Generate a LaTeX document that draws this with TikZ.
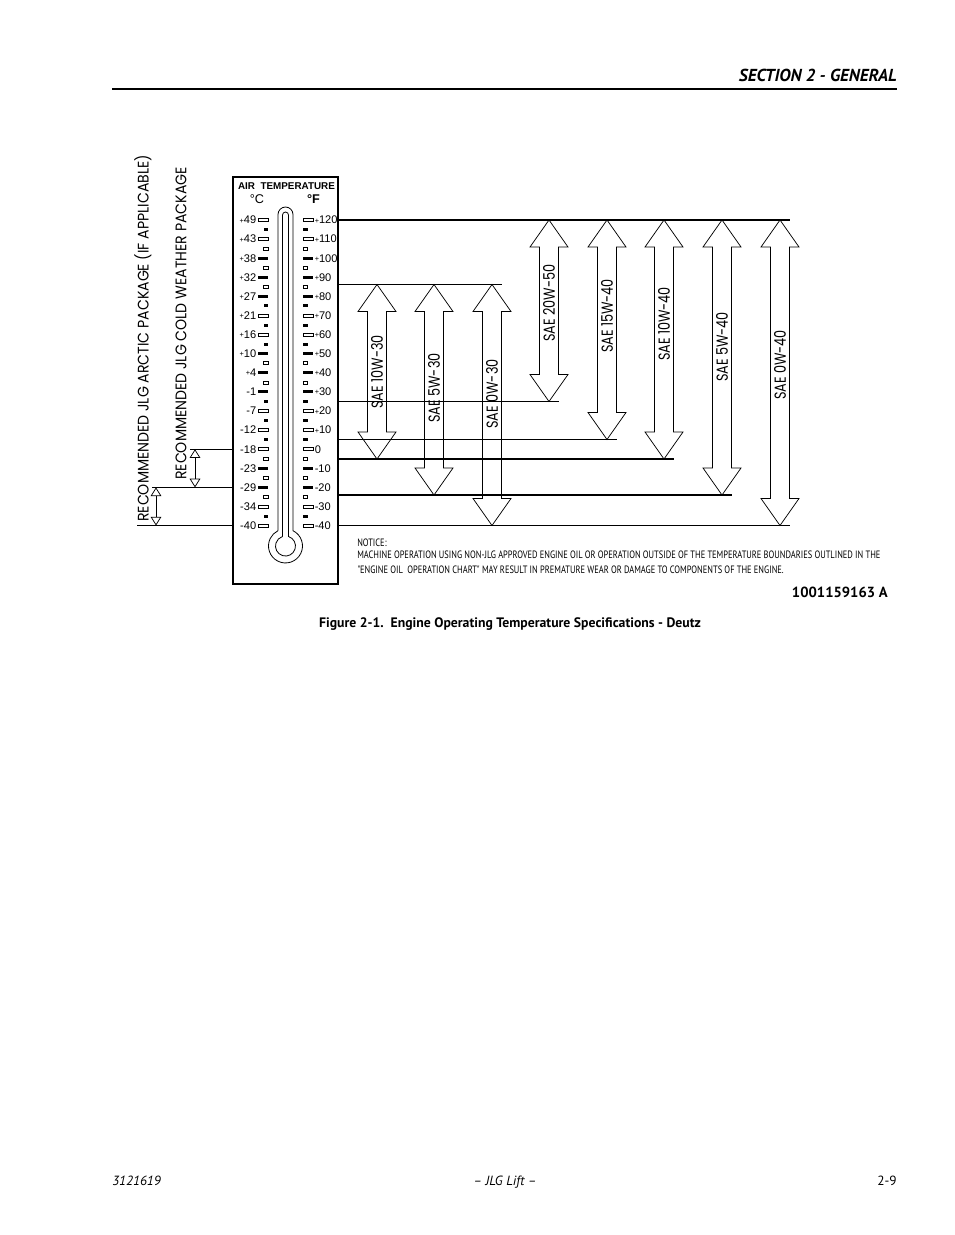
\documentclass[tikz,border=0pt]{standalone}
\usepackage{fontspec}
\setmainfont{PT Sans}
\newfontfamily\gothic[FakeStretch=0.8]{Poppins}
\newfontfamily\gothicwide[FakeStretch=0.92]{Poppins}
\newfontfamily\arial{Liberation Sans}
\newfontfamily\narrow[FakeStretch=0.79]{PT Sans}
\usepackage{tikz}
\usetikzlibrary{positioning,arrows.meta,calc}
\newcommand\tplus{\raisebox{0.6pt}{\fontsize{5.5}{5}\selectfont+}}
\tikzset{
  chartline/.style={line width=0.9pt},
  oilarrow/.style={line width=0.55pt, line join=miter},
  oillabel/.style={font=\gothic\fontsize{12}{12}\selectfont, rotate=90, inner sep=0pt},
  pkglabel/.style={font=\gothicwide\fontsize{11.5}{12}\selectfont, rotate=90, inner sep=0pt, anchor=west},
  pkgarrow/.style={{Triangle[open,length=6.5pt,width=8pt]}-{Triangle[open,length=6.5pt,width=8pt]}, line width=0.55pt},
  degc/.style={font=\arial\fontsize{8.3}{9}\selectfont, anchor=east, inner sep=0pt},
  degf/.style={font=\arial\fontsize{8.3}{9}\selectfont, anchor=west, inner sep=0pt},
  tick o/.style={draw, line width=0.45pt},
  tick f/.style={fill=black},
  pagetext/.style={inner sep=0pt}
}
\begin{document}
\begin{tikzpicture}[x=0.75pt, y=-0.75pt]
  \useasboundingbox[fill=white] (0,0) rectangle (954,1235);

  \node[pagetext, anchor=base east, font=\bfseries\itshape\fontsize{13}{15}\selectfont] (section) at (897,81) {SECTION 2 - GENERAL};
  \draw[line width=0.9pt] (112,89) -- (897,89);

  \node[draw, line width=1pt, minimum width=78.75pt, minimum height=305.25pt, inner sep=0pt, outer sep=0pt] (panel) at (285.5,380.5) {};
  \node[pagetext, font=\arial\bfseries\fontsize{7.4}{8}\selectfont] (airtemp) at (286.5,186) {AIR\ \ TEMPERATURE};
  \node[pagetext, font=\arial\fontsize{9.5}{10}\selectfont] (unitc) at (257,199) {°C};
  \node[pagetext, font=\arial\bfseries\fontsize{9.5}{10}\selectfont] (unitf) at (313.5,199) {°F};

  \draw[line width=0.6pt] (278,530.7) -- (278,214.5) arc[start angle=180, end angle=360, radius=7.5] -- (293,530.7) arc[start angle=-63.8, end angle=243.8, radius=17];
  \draw[line width=0.6pt] (282.5,536.5) -- (282.5,215) arc[start angle=180, end angle=360, radius=3] -- (288.5,536.5) arc[start angle=-72.5, end angle=252.5, radius=10];

  \foreach \c/\f/\s [count=\i from 0] in {{\tplus49}/{\tplus120}/o, {\tplus43}/{\tplus110}/o, {\tplus38}/{\tplus100}/f, {\tplus32}/{\tplus90}/f, {\tplus27}/{\tplus80}/f, {\tplus21}/{\tplus70}/o, {\tplus16}/{\tplus60}/o, {\tplus10}/{\tplus50}/f, {\tplus4}/{\tplus40}/f, {-1}/{\tplus30}/f, {-7}/{\tplus20}/o, {-12}/{\tplus10}/o, {-18}/{0}/o, {-23}/{-10}/f, {-29}/{-20}/f, {-34}/{-30}/o, {-40}/{-40}/o} {
    \pgfmathsetmacro\yy{220+19.1*\i}
    \path[tick \s] (258,\yy-1.5) rectangle (268,\yy+1.5);
    \path[tick \s] (303,\yy-1.5) rectangle (313,\yy+1.5);
    \node[degc] (c\i) at (256.5,\yy) {\c};
    \node[degf] (f\i) at (314.5,\yy) {\f};
  }
  \foreach \s [count=\i from 0] in {f,o,o,o,f,f,f,o,o,f,f,f,o,o,o,f} {
    \pgfmathsetmacro\yy{229.55+19.1*\i}
    \path[tick \s] (263.5,\yy-1.5) rectangle (268,\yy+1.5);
    \path[tick \s] (303,\yy-1.5) rectangle (307.5,\yy+1.5);
  }

  \coordinate (r1) at (790,220);
  \coordinate (r2) at (502,284.5);
  \coordinate (r3) at (559,401.5);
  \coordinate (r4) at (617,439.5);
  \coordinate (r5) at (674,459);
  \coordinate (r6) at (732,495);
  \coordinate (r7) at (790,525.5);
  \foreach \r in {r1,r2,r3,r4,r5,r6,r7}
    \draw[chartline] (panel.east |- \r) -- (\r);

  \coordinate (l1) at (190,449.2);
  \coordinate (l2) at (152,487.4);
  \coordinate (l3) at (137,525.5);
  \foreach \l in {l1,l2,l3}
    \draw[chartline] (panel.west |- \l) -- (\l);

  \coordinate (coldtop) at (195,449.2);
  \coordinate (coldbot) at (195,487.4);
  \coordinate (arctop) at (156,487.4);
  \coordinate (arcbot) at (156,525.5);
  \draw[pkgarrow] (coldtop) -- (coldbot);
  \draw[pkgarrow] (arctop) -- (arcbot);
  \node[pkglabel] (arctic) at (143,522) {RECOMMENDED JLG ARCTIC PACKAGE (IF APPLICABLE)};
  \node[pkglabel] (cold) at (181,480) {RECOMMENDED JLG COLD WEATHER PACKAGE};

  \foreach \cx/\ty/\by/\ly/\oil [count=\k] in {377/284.5/459/372/SAE 10W-30, 434/284.5/495/388/SAE 5W-30, 492/284.5/525.5/394/SAE 0W-30, 549/220/401.5/303/SAE 20W-50, 607/220/439.5/316/SAE 15W-40, 664/220/459/324/SAE 10W-40, 722/220/495/347/SAE 5W-40, 780/220/525.5/365/SAE 0W-40} {
    \draw[oilarrow] (\cx,\ty) -- ++(19,27) -- ++(-9.5,0) -- (\cx+9.5,\by-27) -- ++(9.5,0) -- (\cx,\by) -- ++(-19,-27) -- ++(9.5,0) -- (\cx-9.5,\ty+27) -- ++(-9.5,0) -- cycle;
    \node[oillabel] (oil\k) at (\cx,\ly) {\oil};
  }

  \node[pagetext, anchor=base west, font=\narrow\fontsize{8}{9}\selectfont] (noticehead) at (357,546) {NOTICE:};
  \node[pagetext, anchor=base west, font=\narrow\fontsize{8}{9}\selectfont] (notice) at (357,558) {MACHINE OPERATION USING NON-JLG APPROVED ENGINE OIL OR OPERATION OUTSIDE OF THE TEMPERATURE BOUNDARIES OUTLINED IN THE};
  \node[pagetext, anchor=base west, font=\narrow\fontsize{8}{9}\selectfont] (notice2) at (357,573) {"ENGINE OIL\ \ OPERATION CHART" MAY RESULT IN PREMATURE WEAR OR DAMAGE TO COMPONENTS OF THE ENGINE.};

  \node[pagetext, anchor=base east, font=\bfseries\fontsize{11}{12}\selectfont] (drawno) at (888,597) {1001159163 A};
  \node[pagetext, anchor=base, font=\bfseries\fontsize{10.3}{12}\selectfont] (caption) at (510,627) {Figure 2-1.\ \ Engine Operating Temperature Specifications - Deutz};

  \node[pagetext, anchor=base west, font=\itshape\fontsize{10}{12}\selectfont] (docno) at (112,1185) {3121619};
  \node[pagetext, anchor=base, font=\itshape\fontsize{10}{12}\selectfont] (brand) at (505,1185) {– JLG Lift –};
  \node[pagetext, anchor=base east, font=\fontsize{10}{12}\selectfont] (pageno) at (897,1185) {2-9};
\end{tikzpicture}
\end{document}
